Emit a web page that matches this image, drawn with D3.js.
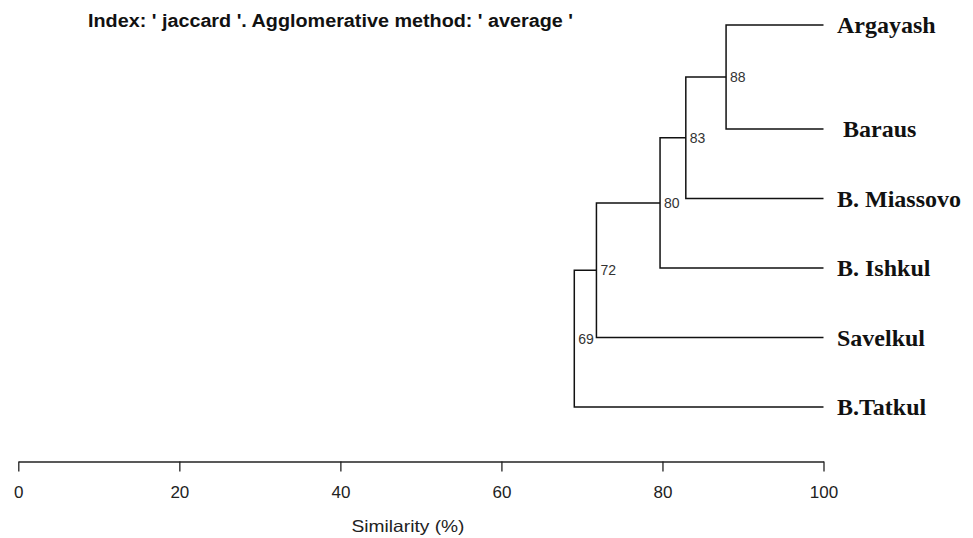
<!DOCTYPE html>
<html>
<head>
<meta charset="utf-8">
<script src="https://cdn.jsdelivr.net/npm/d3@7"></script>
<style>
body { margin: 0; background: #fff; }
svg { display: block; }
</style>
</head>
<body>
<svg id="svg" width="973" height="538"></svg>
<script>
// leaves, top to bottom
var leaves = ["Argayash", "Baraus", "B. Miassovo", "B. Ishkul", "Savelkul", "B.Tatkul"];
// merges (hclust style: negative = leaf index+1, positive = earlier merge)
var merges = [[-1, -2], [1, -3], [2, -4], [3, -5], [4, -6]];
var heights = [87.9, 82.9, 79.7, 71.8, 69.05];
var nodeLabels = ["88", "83", "80", "72", "69"];
var xTicks = [0, 20, 40, 60, 80, 100];

var svg = d3.select("#svg");

var x = d3.scaleLinear().domain([0, 100]).range([18.3, 823.5]);
// leaf rows are not evenly spaced in the original
var y = d3.scaleLinear().domain([0, 1, 5]).range([25, 129, 407]);

// title
svg.append("text")
  .attr("x", 88)
  .attr("y", 27)
  .attr("textLength", 485)
  .attr("lengthAdjust", "spacingAndGlyphs")
  .style("font-family", "Liberation Sans, Arial, sans-serif")
  .style("font-weight", "bold")
  .style("font-size", "17.5px")
  .attr("fill", "#111")
  .text("Index: ' jaccard '. Agglomerative method: ' average '");

// positions of each node
var pos = [];
function getPos(id) {
  if (id < 0) return { x: x(100), y: y(-id - 1) };
  return pos[id - 1];
}

var g = svg.append("g");
merges.forEach(function(m, i) {
  var a = getPos(m[0]), b = getPos(m[1]);
  var hx = x(heights[i]);
  var p = { x: hx, y: (a.y + b.y) / 2 };
  pos.push(p);
  g.append("path")
    .attr("d", "M" + a.x + "," + a.y + "H" + hx + "V" + b.y + "H" + b.x)
    .attr("fill", "none")
    .attr("stroke", "#111")
    .attr("stroke-width", 1.5);
});

// node labels
merges.forEach(function(m, i) {
  svg.append("text")
    .attr("x", pos[i].x + 4)
    .attr("y", pos[i].y + 5)
    .style("font-family", "Liberation Sans, Arial, sans-serif")
    .style("font-size", "14px")
    .attr("fill", "#333")
    .text(nodeLabels[i]);
});

// leaf labels
svg.selectAll(".leaf")
  .data(leaves)
  .enter().append("text")
  .attr("class", "leaf")
  .attr("x", function(d) { return d == "Baraus" ? 843 : 837; })
  .attr("y", function(d, i) { return y(i) + 8; })
  .style("font-family", "Liberation Serif, Times New Roman, serif")
  .style("font-weight", "bold")
  .style("font-size", "24px")
  .attr("fill", "#111")
  .text(function(d) { return d; });

// axis
var axis = d3.axisBottom(x).tickValues(xTicks).tickSize(10).tickSizeOuter(0).tickPadding(14);
var ax = svg.append("g")
  .attr("transform", "translate(0,461.5)")
  .call(axis);
ax.select(".domain").attr("stroke", "#222").attr("stroke-width", 1.3);
ax.selectAll(".tick line").attr("stroke", "#222").attr("stroke-width", 1.3);
ax.selectAll(".tick text")
  .style("font-family", "Liberation Sans, Arial, sans-serif")
  .style("font-size", "17px")
  .attr("fill", "#222");

svg.append("text")
  .attr("x", 408)
  .attr("y", 532)
  .attr("text-anchor", "middle")
  .attr("textLength", 113)
  .attr("lengthAdjust", "spacingAndGlyphs")
  .style("font-family", "Liberation Sans, Arial, sans-serif")
  .style("font-size", "16.5px")
  .attr("fill", "#222")
  .text("Similarity (%)");
</script>
</body>
</html>
